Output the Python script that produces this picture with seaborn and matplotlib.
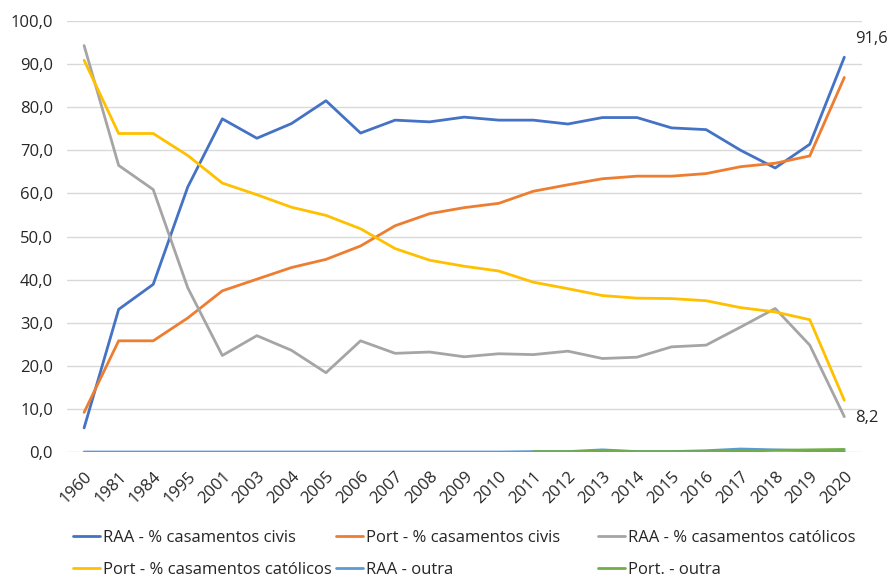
import numpy as np
import pandas as pd
import matplotlib
matplotlib.use("Agg")
import matplotlib.pyplot as plt
import seaborn as sns

years = ["1960", "1981", "1984", "1995", "2001", "2003", "2004", "2005", "2006", "2007",
         "2008", "2009", "2010", "2011", "2012", "2013", "2014", "2015", "2016", "2017",
         "2018", "2019", "2020"]

raa_civis = [5.6, 33.1, 38.9, 61.5, 77.3, 72.8, 76.2, 81.5, 74.0, 77.0, 76.6, 77.7,
             77.0, 77.0, 76.1, 77.6, 77.6, 75.2, 74.8, 70.0, 65.9, 71.4, 91.6]
port_civis = [9.2, 25.8, 25.8, 31.1, 37.4, 40.1, 42.8, 44.7, 47.8, 52.5, 55.3, 56.7,
              57.7, 60.5, 62.0, 63.4, 64.0, 64.0, 64.6, 66.2, 67.0, 68.7, 86.9]
raa_catolicos = [94.3, 66.5, 60.9, 38.1, 22.4, 27.0, 23.6, 18.4, 25.8, 22.9, 23.2, 22.1,
                 22.8, 22.6, 23.4, 21.7, 22.0, 24.4, 24.8, 29.0, 33.3, 24.8, 8.2]
port_catolicos = [90.9, 73.9, 73.9, 68.8, 62.4, 59.7, 56.8, 54.9, 51.8, 47.2, 44.5, 43.1,
                  42.0, 39.4, 37.9, 36.3, 35.7, 35.6, 35.1, 33.5, 32.5, 30.7, 12.0]
raa_outra = [0.0, 0.0, 0.0, 0.0, 0.0, 0.0, 0.0, 0.0, 0.0, 0.0, 0.0, 0.0,
             0.0, 0.1, 0.1, 0.5, 0.1, 0.1, 0.3, 0.7, 0.5, 0.3, 0.1]
port_outra = [None, None, None, None, None, None, None, None, None, None, None, None,
              None, 0.1, 0.1, 0.2, 0.1, 0.1, 0.1, 0.2, 0.4, 0.5, 0.6]

series_names = ["RAA - % casamentos civis", "Port - % casamentos civis",
                "RAA - % casamentos católicos", "Port - % casamentos católicos",
                "RAA - outra", "Port. - outra"]
series_values = [raa_civis, port_civis, raa_catolicos, port_catolicos, raa_outra, port_outra]
colors = ["#4472C4", "#ED7D31", "#A5A5A5", "#FFC000", "#5B9BD5", "#70AD47"]

rows = []
for name, vals in zip(series_names, series_values):
    for i, v in enumerate(vals):
        if v is not None:
            rows.append({"idx": i, "value": v, "series": name})
df = pd.DataFrame(rows)

sns.set_theme(style="white")
plt.rcParams["font.family"] = ["Open Sans", "DejaVu Sans"]

FS = 12
TXT = "#262626"

fig = plt.figure(figsize=(8.91, 5.77), dpi=100)
ax = fig.add_axes([0.075, 0.2166, 0.892, 0.747])

sns.lineplot(data=df, x="idx", y="value", hue="series", hue_order=series_names,
             palette=dict(zip(series_names, colors)), linewidth=2.0, ax=ax,
             estimator=None, sort=False)

ax.set_xlim(-0.5, len(years) - 0.5)
ax.set_ylim(0, 100)
yt = np.arange(0, 101, 10)
ax.set_yticks(yt)
ax.set_yticklabels([f"{v:.1f}".replace(".", ",") for v in yt], fontsize=FS, color=TXT)
ax.set_xticks(range(len(years)))
ax.set_xticklabels(years, rotation=45, ha="right", va="top", rotation_mode="anchor",
                   fontsize=FS, color=TXT)
ax.tick_params(axis="y", length=0, pad=10)
ax.tick_params(axis="x", length=0, pad=12)
ax.set_xlabel("")
ax.set_ylabel("")
ax.grid(axis="y", color="#D9D9D9", linewidth=1)
ax.grid(axis="x", visible=False)
ax.set_axisbelow(True)
for s in ax.spines.values():
    s.set_visible(False)

# data labels
ax.annotate(f"{raa_civis[-1]:.1f}".replace(".", ","), xy=(len(years) - 1, raa_civis[-1]),
            xytext=(8, 13), textcoords="offset points", fontsize=FS, color=TXT,
            ha="left", va="center", annotation_clip=False)
ax.annotate(f"{raa_catolicos[-1]:.1f}".replace(".", ","), xy=(len(years) - 1, raa_catolicos[-1]),
            xytext=(8, -1), textcoords="offset points", fontsize=FS, color=TXT,
            ha="left", va="center", annotation_clip=False)

handles, labels = ax.get_legend_handles_labels()
ax.get_legend().remove()

W, H = 891.0, 577.0
col_x = [73, 336, 598]
y_mid = 554
for c in range(3):
    idxs = [c, c + 3]
    fig.legend([handles[i] for i in idxs], [labels[i] for i in idxs], ncol=1,
               loc="center left", bbox_to_anchor=(col_x[c] / W, 1 - y_mid / H),
               frameon=False, fontsize=FS, handlelength=1.6, handletextpad=0.18,
               labelspacing=0.95, borderpad=0, borderaxespad=0, labelcolor=TXT)

fig.savefig("out.png", dpi=100)
